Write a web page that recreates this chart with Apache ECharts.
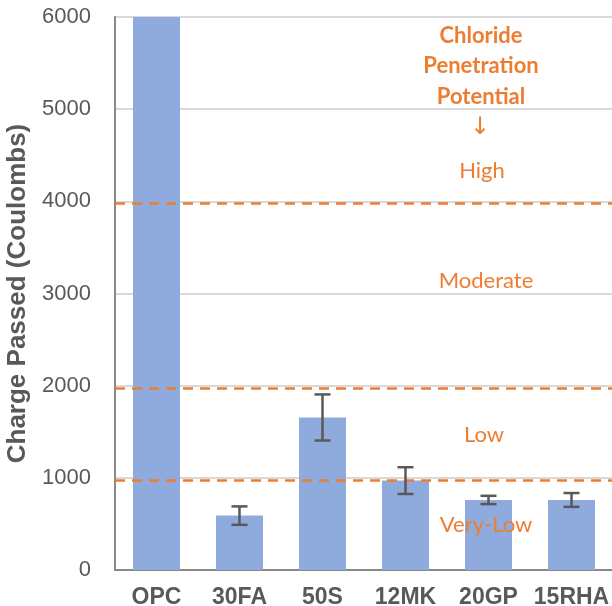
<!DOCTYPE html>
<html>
<head>
<meta charset="utf-8">
<script src="https://cdn.jsdelivr.net/npm/echarts@6/dist/echarts.min.js"></script>
<style>
  html, body { margin: 0; padding: 0; background: #fff; }
  #chart { width: 612px; height: 606px; }
</style>
</head>
<body>
<div id="chart"></div>
<script>
// data
const categories = ['OPC', '30FA', '50S', '12MK', '20GP', '15RHA'];
const chargePassed = [6000, 590, 1655, 970, 760, 760];
const errorPlusMinus = [null, 100, 250, 145, 45, 75];
const yTicks = [0, 1000, 2000, 3000, 4000, 5000, 6000];
// class limits of chloride penetration (drawn slightly under the grid lines, as in the picture)
const limitLines = [3975, 1975, 975];

const orange = '#ED7D31';
const grey = '#595959';

const errorData = [];
categories.forEach((c, i) => {
  if (errorPlusMinus[i] != null) {
    errorData.push([i, chargePassed[i] - errorPlusMinus[i], chargePassed[i] + errorPlusMinus[i]]);
  }
});

const chart = echarts.init(document.getElementById('chart'));

const option = {
  animation: false,
  grid: { left: 115, top: 17, width: 498, height: 553, outerBoundsMode: 'none', containLabel: false },
  xAxis: {
    type: 'category',
    data: categories,
    axisLine: { lineStyle: { color: '#898989', width: 2 } },
    axisTick: { show: false },
    axisLabel: {
      interval: 0,
      color: grey,
      fontFamily: 'Liberation Sans',
      fontWeight: 'bold',
      fontSize: 23,
      margin: 16
    }
  },
  yAxis: {
    type: 'value',
    min: yTicks[0],
    max: yTicks[yTicks.length - 1],
    interval: 1000,
    name: 'Charge Passed (Coulombs)',
    nameLocation: 'middle',
    nameGap: 75,
    nameTextStyle: {
      color: grey,
      fontFamily: 'Liberation Sans',
      fontWeight: 'bold',
      fontSize: 26
    },
    axisLine: { show: true, lineStyle: { color: '#898989', width: 2 } },
    axisTick: { show: false },
    axisLabel: {
      color: grey,
      fontFamily: 'Liberation Sans',
      fontSize: 22,
      margin: 24,
      formatter: v => String(v)
    },
    splitLine: { lineStyle: { color: '#D9D9D9', width: 2 } }
  },
  series: [
    {
      type: 'bar',
      data: chargePassed,
      barWidth: 47,
      itemStyle: { color: '#8FAADC' },
      markLine: {
        silent: true,
        symbol: 'none',
        label: { show: false },
        lineStyle: { color: orange, type: [10, 7], width: 2.5 },
        data: limitLines.map(v => ({ yAxis: v }))
      },
      z: 2
    },
    {
      type: 'custom',
      data: errorData,
      z: 5,
      renderItem: function (params, api) {
        const x = api.value(0);
        const lo = api.coord([x, api.value(1)]);
        const hi = api.coord([x, api.value(2)]);
        const cap = 8;
        const style = { stroke: '#595959', lineWidth: 2.5 };
        return {
          type: 'group',
          children: [
            { type: 'line', shape: { x1: lo[0], y1: lo[1], x2: hi[0], y2: hi[1] }, style: style },
            { type: 'line', shape: { x1: lo[0] - cap, y1: lo[1], x2: lo[0] + cap, y2: lo[1] }, style: style },
            { type: 'line', shape: { x1: hi[0] - cap, y1: hi[1], x2: hi[0] + cap, y2: hi[1] }, style: style }
          ]
        };
      }
    }
  ],
  graphic: [
    { type: 'text', x: 481, y: 36, z: 20, style: { text: 'Chloride', fill: orange, font: 'bold 22px Lato', align: 'center', verticalAlign: 'middle' } },
    { type: 'text', x: 481, y: 66, z: 20, style: { text: 'Penetration', fill: orange, font: 'bold 22px Lato', align: 'center', verticalAlign: 'middle' } },
    { type: 'text', x: 481, y: 97, z: 20, style: { text: 'Potential', fill: orange, font: 'bold 22px Lato', align: 'center', verticalAlign: 'middle' } },
    { type: 'text', x: 480, y: 128, z: 20, style: { text: '↓', fill: orange, font: '24px "DejaVu Sans"', align: 'center', verticalAlign: 'middle' } },
    { type: 'text', x: 482, y: 171, z: 20, style: { text: 'High', fill: orange, font: '22px Lato', align: 'center', verticalAlign: 'middle' } },
    { type: 'text', x: 486, y: 281, z: 20, style: { text: 'Moderate', fill: orange, font: '22px Lato', align: 'center', verticalAlign: 'middle' } },
    { type: 'text', x: 484, y: 435, z: 20, style: { text: 'Low', fill: orange, font: '22px Lato', align: 'center', verticalAlign: 'middle' } },
    { type: 'text', x: 486, y: 525, z: 20, style: { text: 'Very-Low', fill: orange, font: '22px Lato', align: 'center', verticalAlign: 'middle' } }
  ]
};

chart.setOption(option);
</script>
</body>
</html>
